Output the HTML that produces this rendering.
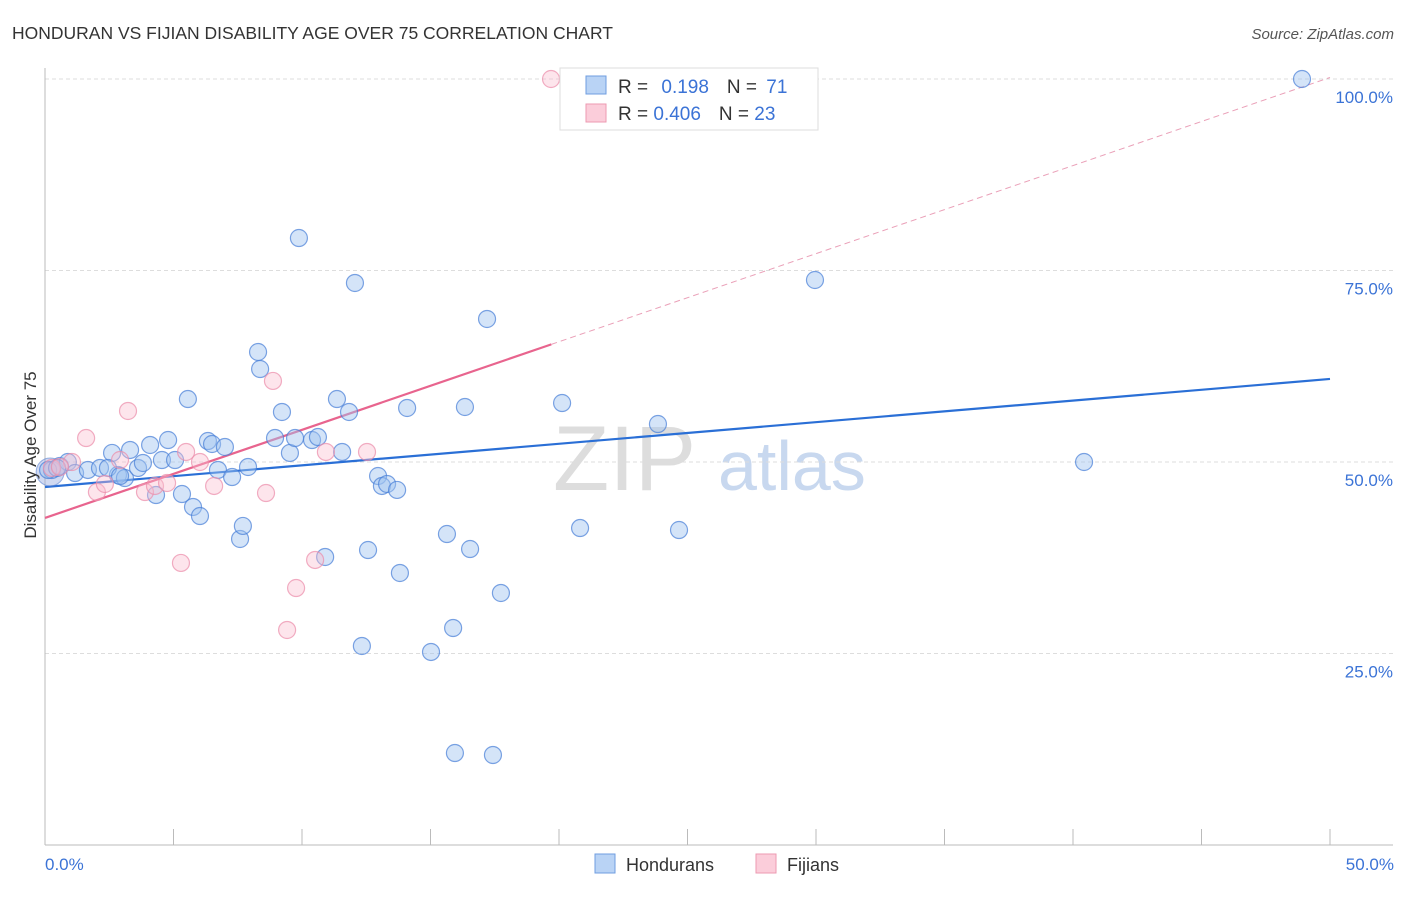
<!DOCTYPE html>
<html><head><meta charset="utf-8"><style>
body{margin:0;background:#fff;font-family:"Liberation Sans",sans-serif;}
svg text{font-family:"Liberation Sans",sans-serif;}
</style></head><body>
<svg id="c" width="1406" height="892" xmlns="http://www.w3.org/2000/svg">
<text x="12" y="39" font-size="17.5" fill="#333">HONDURAN VS FIJIAN DISABILITY AGE OVER 75 CORRELATION CHART</text>
<text x="1394" y="39" font-size="15" fill="#555" font-style="italic" text-anchor="end">Source: ZipAtlas.com</text>
<g><text x="553" y="490" font-size="92" fill="#ddd" font-family="Liberation Serif">ZIP</text><text x="718" y="490" font-size="70" fill="#c8d8ef">atlas</text></g>
<g id="grid"></g><g id="axes"></g><g id="lines"></g><g id="pts"></g>
<text x="-455" y="36" transform="rotate(-90)" font-size="17" fill="#333" text-anchor="middle">Disability Age Over 75</text>
<text x="45" y="870" font-size="17" fill="#3b73d6">0.0%</text>
<text x="1394" y="870" font-size="17" fill="#3b73d6" text-anchor="end">50.0%</text>
<g>
<rect x="560" y="68" width="258" height="62" fill="#fff" stroke="#ddd"/>
<rect x="586" y="76" width="20" height="18" fill="#b9d3f5" stroke="#6f9ee0"/>
<rect x="586" y="104" width="20" height="18" fill="#fbcdda" stroke="#ec9ab1"/>
<text x="618" y="93" font-size="19" fill="#333">R = <tspan fill="#3b73d6" dx="8">0.198</tspan><tspan fill="#333" dx="18">N = </tspan><tspan fill="#3b73d6" dx="4">71</tspan></text>
<text x="618" y="120" font-size="19" fill="#333">R = <tspan fill="#3b73d6">0.406</tspan><tspan fill="#333" dx="18">N = </tspan><tspan fill="#3b73d6">23</tspan></text>
</g>
<g>
<rect x="595" y="854" width="20" height="19" fill="#b9d3f5" stroke="#6f9ee0"/>
<text x="626" y="871" font-size="18" fill="#333">Hondurans</text>
<rect x="756" y="854" width="20" height="19" fill="#fbcdda" stroke="#ec9ab1"/>
<text x="787" y="871" font-size="18" fill="#333">Fijians</text>
</g>
</svg>
<script>
const yTicks=[25,50,75,100];
const yTickLabels=["25.0%","50.0%","75.0%","100.0%"];
const xTicks=[0,5,10,15,20,25,30,35,40,45,50];
const hondX=[0.27,0.58,0.89,1.17,1.67,2.14,2.61,2.84,3.11,3.31,3.62,3.81,4.09,4.32,4.55,4.79,5.06,5.33,5.56,5.76,6.03,6.34,6.50,6.73,7.00,7.28,7.59,7.70,7.90,8.29,8.37,8.95,9.22,9.53,9.73,9.88,10.39,10.62,10.90,11.36,11.56,11.83,12.06,12.33,12.57,12.96,13.11,13.31,13.70,13.81,14.09,15.02,15.64,15.88,15.95,16.34,16.54,17.20,17.43,17.74,20.12,20.82,23.85,24.67,29.96,40.43,48.91,0.12,0.47,2.45,2.92];
const hondY=[48.96,49.48,50.0,48.56,48.96,49.22,51.18,48.30,47.91,51.57,49.22,49.87,52.22,45.69,50.26,52.87,50.26,45.82,58.22,44.13,42.95,52.74,52.35,48.96,51.96,48.04,39.95,41.65,49.35,64.36,62.14,53.13,56.53,51.18,53.13,79.24,52.87,53.26,37.60,58.22,51.31,56.53,73.37,25.98,38.51,48.17,46.87,47.13,46.35,35.51,57.05,25.20,40.60,28.33,12.01,57.18,38.64,68.67,11.75,32.90,57.70,41.38,54.96,41.12,73.76,50.0,100,48.96,49.22,49.22,48.17];
const fijiX=[0.27,1.05,1.60,2.02,2.33,2.92,3.23,3.89,4.28,4.75,5.29,5.49,6.03,6.58,8.60,8.87,9.42,9.77,10.51,10.93,12.53,19.69,0.58];
const fijiY=[49.22,50.0,53.13,46.08,47.13,50.26,56.66,46.08,46.87,47.26,36.82,51.31,50.0,46.87,45.95,60.58,28.07,33.55,37.21,51.31,51.31,100,49.35];
const hondLine=[46.74,60.84];
const fijiLine=[42.7,1.15];
const fijiSolidEnd=19.7;

const NS="http://www.w3.org/2000/svg";
const X=v=>45+v*(1285/50);
const Y=v=>845-v*7.66;
function mk(tag,attrs,parent){const e=document.createElementNS(NS,tag);for(const k in attrs)e.setAttribute(k,attrs[k]);parent.appendChild(e);return e;}
const grid=document.getElementById('grid'),axes=document.getElementById('axes'),lines=document.getElementById('lines'),pts=document.getElementById('pts'),svg=document.getElementById('c');
yTicks.forEach((t,i)=>{
 const l=mk('line',{x1:45,x2:1393,y1:Y(t),y2:Y(t),stroke:'#ddd','stroke-dasharray':'4,3'},grid);
 
 
 const tx=mk('text',{x:1393,y:Y(t)+24,'font-size':17,fill:'#3b73d6','text-anchor':'end'},grid);
 tx.textContent=yTickLabels[i];
 
 
});
const ya=mk('line',{x1:45,x2:45,y1:68,y2:845,stroke:'#bbb'},axes);


const xa=mk('line',{x1:45,x2:1393,y1:845,y2:845,stroke:'#bbb'},axes);


xTicks.forEach(t=>{
 const l=mk('line',{x1:X(t),x2:X(t),y1:829,y2:845,stroke:'#bbb'},axes);
 
 
});
function dot(x,y,r,fill,stroke,name){
 const c=mk('circle',{cx:X(x),cy:Y(y),r:r,fill:fill,stroke:stroke,'stroke-width':1.2},pts);
 
 
}
const big=mk('circle',{cx:X(0.2),cy:Y(48.7),r:14,fill:'rgba(150,170,225,0.45)',stroke:'rgba(90,130,210,0.6)'},pts);


hondX.forEach((x,i)=>dot(x,hondY[i],8.5,'rgba(160,195,240,0.45)','rgba(70,125,215,0.7)','honduran-point'));
fijiX.forEach((x,i)=>dot(x,fijiY[i],8.5,'rgba(250,190,208,0.4)','rgba(235,140,170,0.7)','fijian-point'));
const bl=mk('line',{x1:X(0),y1:Y(hondLine[0]),x2:X(50),y2:Y(hondLine[1]),stroke:'#2a6fd6','stroke-width':2.2},lines);


const pl=mk('line',{x1:X(0),y1:Y(fijiLine[0]),x2:X(fijiSolidEnd),y2:Y(fijiLine[0]+fijiLine[1]*fijiSolidEnd),stroke:'#e8648e','stroke-width':2.2},lines);


const pd=mk('line',{x1:X(fijiSolidEnd),y1:Y(fijiLine[0]+fijiLine[1]*fijiSolidEnd),x2:X(50),y2:Y(fijiLine[0]+fijiLine[1]*50),stroke:'#eaa0b8','stroke-width':1,'stroke-dasharray':'6,4'},lines);


</script>
</body></html>
